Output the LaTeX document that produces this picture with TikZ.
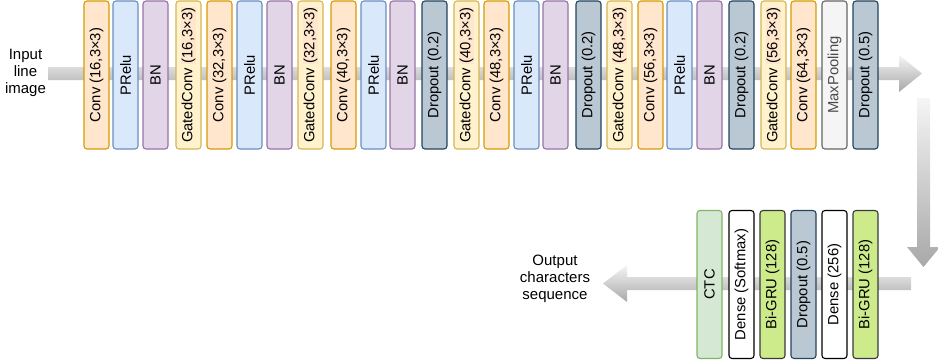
\documentclass[tikz,border=0pt]{standalone}
\usepackage{fontspec}
\setmainfont{Liberation Sans}
\usetikzlibrary{calc}

% layer palette: fill (F), border (D)
\definecolor{convF}{HTML}{FFE6CC}  \definecolor{convD}{HTML}{D79B00}
\definecolor{preluF}{HTML}{DAE8FC} \definecolor{preluD}{HTML}{6C8EBF}
\definecolor{bnF}{HTML}{E1D5E7}    \definecolor{bnD}{HTML}{9673A6}
\definecolor{gateF}{HTML}{FFF2CC}  \definecolor{gateD}{HTML}{D6B656}
\definecolor{dropF}{HTML}{BAC8D3}  \definecolor{dropD}{HTML}{23445D}
\definecolor{poolF}{HTML}{F5F5F5}  \definecolor{poolD}{HTML}{666666}
\definecolor{poolT}{HTML}{4A4A4A}
\definecolor{ctcF}{HTML}{D5E8D4}   \definecolor{ctcD}{HTML}{82B366}
\definecolor{gruF}{HTML}{CDEB8B}   \definecolor{gruD}{HTML}{36393D}
\definecolor{hlF}{HTML}{FFE6CC}
\definecolor{arrTop}{HTML}{F5F5F5} \definecolor{arrBot}{HTML}{A8A8A8}

% highlighted kernel spec inside the gated convolution labels
\newcommand\numhl[1]{{\setlength{\fboxsep}{0.6pt}\colorbox{hlF}{#1}}}

\begin{document}
\begin{tikzpicture}[x=1pt,y=-1pt,
  layer/.style={draw, rounded corners=3pt, line width=1.1pt, rotate=90,
    minimum width=148pt, minimum height=25pt, inner sep=0pt,
    font=\fontsize{14.8}{17}\selectfont},
  conv/.style={layer, fill=convF, draw=convD},
  prelu/.style={layer, fill=preluF, draw=preluD},
  bn/.style={layer, fill=bnF, draw=bnD},
  gated/.style={layer, fill=gateF, draw=gateD},
  drop/.style={layer, fill=dropF, draw=dropD},
  pool/.style={layer, fill=poolF, draw=poolD, text=poolT},
  ctc/.style={layer, fill=ctcF, draw=ctcD},
  dense/.style={layer, fill=white, draw=black},
  gru/.style={layer, fill=gruF, draw=gruD},
  lbl/.style={align=center, inner sep=0pt, font=\fontsize{15}{17.3}\selectfont},
  flow/.style={top color=arrTop, bottom color=arrBot, draw=none}]

\useasboundingbox (0,0) rectangle (938,364);

% text at both ends of the pipeline
\node[lbl] (in)  at (25.5,73) {Input\\line\\image};
\node[lbl] (out) at (555,279) {Output\\characters\\sequence};

% end points of the three flow arrows
\coordinate (a1s) at (48,73.5);
\coordinate (a1e) at (922,73.5);
\coordinate (a2s) at (923.5,98);
\coordinate (a2e) at (923.5,267);
\coordinate (a3s) at (911,283.5);
\coordinate (a3e) at (603,283.5);

% flow arrows (drawn first, behind the layers)
\shade[flow] ($(a1s)+(0,-6.5)$) -- ($(a1e)+(-23,-6.5)$) -- ($(a1e)+(-23,-18.5)$)
  -- (a1e) -- ($(a1e)+(-23,18.5)$) -- ($(a1e)+(-23,6.5)$) -- ($(a1s)+(0,6.5)$) -- cycle;
\shade[flow] ($(a2s)+(-6.5,0)$) -- ($(a2e)+(-6.5,-20)$) -- ($(a2e)+(-16.5,-20)$)
  -- (a2e) -- ($(a2e)+(16.5,-20)$) -- ($(a2e)+(6.5,-20)$) -- ($(a2s)+(6.5,0)$) -- cycle;
\shade[flow] ($(a3s)+(0,-6.5)$) -- ($(a3e)+(24,-6.5)$) -- ($(a3e)+(24,-18.5)$)
  -- (a3e) -- ($(a3e)+(24,18.5)$) -- ($(a3e)+(24,6.5)$) -- ($(a3s)+(0,6.5)$) -- cycle;

% convolutional stage
\node[conv]  (t1)  at (96.5,75)  {Conv (16,3×3)};
\node[prelu] (t2)  at (125.5,75) {PRelu};
\node[bn]    (t3)  at (155.5,75) {BN};
\node[gated] (t4)  at (188.5,75) {GatedConv \numhl{(16,3×3)}};
\node[conv]  (t5)  at (219.5,75) {Conv (32,3×3)};
\node[prelu] (t6)  at (249.5,75) {PRelu};
\node[bn]    (t7)  at (279.5,75) {BN};
\node[gated] (t8)  at (310.5,75) {GatedConv \numhl{(32,3×3)}};
\node[conv]  (t9)  at (343.5,75) {Conv (40,3×3)};
\node[prelu] (t10) at (373.5,75) {PRelu};
\node[bn]    (t11) at (402.5,75) {BN};
\node[drop]  (t12) at (434.5,75) {Dropout (0.2)};
\node[gated] (t13) at (466.5,75) {GatedConv \numhl{(40,3×3)}};
\node[conv]  (t14) at (496.5,75) {Conv (48,3×3)};
\node[prelu] (t15) at (526.5,75) {PRelu};
\node[bn]    (t16) at (555.5,75) {BN};
\node[drop]  (t17) at (588.5,75) {Dropout (0.2)};
\node[gated] (t18) at (619.5,75) {GatedConv \numhl{(48,3×3)}};
\node[conv]  (t19) at (650.5,75) {Conv (56,3×3)};
\node[prelu] (t20) at (679.5,75) {PRelu};
\node[bn]    (t21) at (709.5,75) {BN};
\node[drop]  (t22) at (741.5,75) {Dropout (0.2)};
\node[gated] (t23) at (773.5,75) {GatedConv \numhl{(56,3×3)}};
\node[conv]  (t24) at (803.5,75) {Conv (64,3×3)};
\node[pool]  (t25) at (834.5,75) {MaxPooling};
\node[drop]  (t26) at (865.5,75) {Dropout (0.5)};

% recurrent stage
\node[ctc]   (b1) at (709.5,284.5) {CTC};
\node[dense] (b2) at (741.5,284.5) {Dense (Softmax)};
\node[gru]   (b3) at (772.5,284.5) {Bi-GRU (128)};
\node[drop]  (b4) at (803.5,284.5) {Dropout (0.5)};
\node[dense] (b5) at (834.5,284.5) {Dense (256)};
\node[gru]   (b6) at (865.5,284.5) {Bi-GRU (128)};

\end{tikzpicture}
\end{document}
